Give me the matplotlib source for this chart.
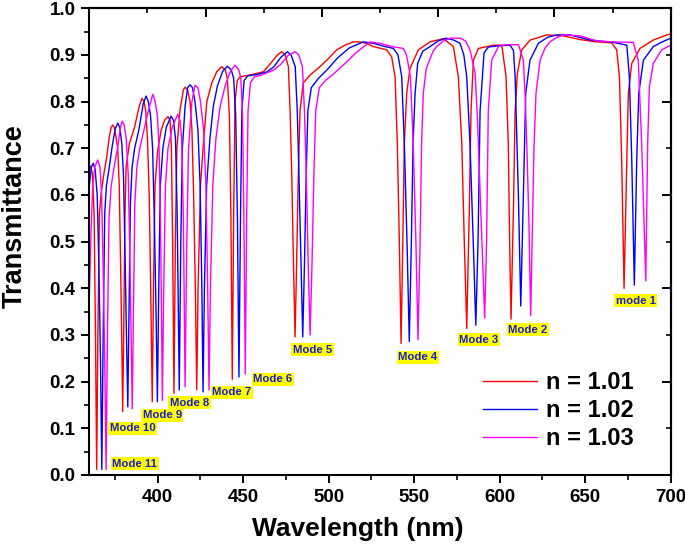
import matplotlib
matplotlib.use("Agg")
import matplotlib.pyplot as plt
from matplotlib.lines import Line2D
from matplotlib.ticker import MultipleLocator, FixedLocator

plt.rcParams['font.family'] = ['Liberation Sans', 'DejaVu Sans']

# ---------------- data ----------------
red_x = [360.0, 360.8, 361.8, 362.8, 363.6, 364.3, 365.0, 365.9, 367.0, 368.5, 370.2, 371.7, 372.8,
         373.7, 374.6, 375.6, 376.6, 377.5, 378.3, 379.0, 379.5, 380.1, 380.8, 381.5, 383.4, 386.3,
         389.2, 390.8, 392.0, 393.0, 394.0, 395.0, 395.8, 396.8, 397.6, 398.4, 400.0, 402.0, 404.0,
         406.0, 407.2, 408.0, 408.7, 409.5, 410.3, 411.2, 413.0, 415.0, 416.0, 417.5, 418.9, 420.0,
         421.0, 422.0, 422.8, 423.6, 425.0, 426.7, 428.7, 431.6, 434.5, 437.4, 439.5, 440.7, 441.9,
         442.8, 443.6, 444.4, 445.2, 446.5, 448.1, 455.0, 461.8, 466.0, 470.0, 472.5, 474.5, 476.4,
         477.4, 478.4, 479.4, 480.3, 481.2, 482.2, 483.2, 485.1, 489.1, 494.9, 500.0, 504.7, 510.0,
         514.4, 518.3, 522.0, 526.1, 533.9, 536.8, 538.8, 540.1, 541.3, 542.3, 543.3, 544.2, 545.6,
         547.5, 552.4, 559.2, 567.0, 572.9, 575.8, 577.8, 579.3, 580.7, 582.2, 583.2, 584.6, 587.5,
         596.3, 601.2, 603.7, 605.0, 605.8, 606.6, 608.0, 609.0, 610.3, 612.9, 617.8, 627.5, 637.2,
         647.0, 656.7, 665.5, 668.4, 670.0, 671.3, 672.7, 674.3, 675.2, 677.2, 682.0, 689.8, 697.7,
         700.0]
red_y = [0.655, 0.662, 0.645, 0.56, 0.30, 0.012, 0.30, 0.56, 0.605, 0.645, 0.682, 0.725, 0.745,
         0.750, 0.745, 0.725, 0.70, 0.62, 0.45, 0.28, 0.136, 0.30, 0.55, 0.66, 0.71, 0.743,
         0.79, 0.807, 0.80, 0.78, 0.72, 0.60, 0.42, 0.157, 0.42, 0.62, 0.696, 0.739, 0.760,
         0.768, 0.76, 0.70, 0.50, 0.175, 0.50, 0.70, 0.782, 0.825, 0.831, 0.825, 0.80, 0.74,
         0.60, 0.40, 0.183, 0.40, 0.62, 0.71, 0.80, 0.84, 0.864, 0.875, 0.868, 0.85, 0.77,
         0.55, 0.205, 0.55, 0.80, 0.845, 0.853, 0.858, 0.864, 0.882, 0.900, 0.907, 0.900, 0.875,
         0.78, 0.64, 0.45, 0.296, 0.45, 0.64, 0.78, 0.84, 0.857, 0.875, 0.893, 0.911, 0.922,
         0.928, 0.928, 0.925, 0.918, 0.911, 0.896, 0.853, 0.71, 0.496, 0.282, 0.496, 0.71, 0.818,
         0.871, 0.911, 0.928, 0.935, 0.918, 0.853, 0.71, 0.496, 0.314, 0.568, 0.78, 0.889, 0.914,
         0.921, 0.921, 0.853, 0.71, 0.496, 0.334, 0.568, 0.78, 0.861, 0.911, 0.932, 0.943, 0.941,
         0.933, 0.928, 0.926, 0.911, 0.853, 0.675, 0.40, 0.675, 0.818, 0.882, 0.914, 0.932, 0.943,
         0.945]

blue_x = [360.0, 361.2, 362.3, 363.4, 364.6, 365.6, 366.5, 367.3, 368.1, 369.0, 370.0, 371.5, 373.2,
          375.0, 376.6, 377.8, 379.0, 380.0, 381.0, 381.8, 382.5, 383.2, 384.0, 385.0, 386.5, 389.0,
          391.5, 393.2, 394.5, 395.8, 397.0, 398.0, 399.0, 399.8, 400.6, 401.5, 403.0, 405.0, 407.8,
          409.2, 410.4, 411.4, 412.6, 413.5, 414.4, 416.0, 417.5, 418.9, 420.3, 421.8, 423.5, 424.8,
          425.8, 426.5, 427.3, 428.6, 430.5, 432.5, 435.0, 438.0, 440.7, 443.0, 444.4, 445.6, 446.6,
          447.5, 448.4, 449.2, 450.5, 452.5, 458.0, 464.0, 468.0, 472.0, 475.8, 478.0, 480.4, 481.6,
          482.6, 483.8, 484.8, 485.8, 486.8, 487.8, 489.8, 494.0, 499.0, 505.0, 512.0, 520.2, 526.0,
          533.0, 537.8, 540.5, 542.7, 544.2, 545.8, 547.1, 548.3, 549.3, 550.5, 552.0, 555.0, 559.2,
          564.0, 568.6, 573.0, 576.8, 579.0, 580.7, 582.6, 584.5, 586.0, 587.3, 588.5, 590.8, 593.3,
          600.0, 606.0, 608.0, 609.0, 610.9, 612.3, 613.8, 615.2, 617.7, 622.6, 628.0, 633.3, 641.1,
          652.8, 666.4, 674.3, 675.8, 677.2, 678.7, 680.1, 681.3, 684.0, 689.8, 695.0, 700.0]
blue_y = [0.62, 0.66, 0.668, 0.655, 0.60, 0.45, 0.25, 0.012, 0.30, 0.56, 0.62, 0.655, 0.70,
          0.74, 0.754, 0.745, 0.71, 0.64, 0.45, 0.28, 0.146, 0.35, 0.58, 0.66, 0.70, 0.74,
          0.795, 0.812, 0.80, 0.77, 0.70, 0.55, 0.35, 0.157, 0.40, 0.62, 0.70, 0.745, 0.769,
          0.76, 0.72, 0.55, 0.182, 0.50, 0.70, 0.79, 0.83, 0.836, 0.83, 0.80, 0.74, 0.62,
          0.40, 0.178, 0.40, 0.62, 0.72, 0.79, 0.835, 0.865, 0.876, 0.868, 0.85, 0.77, 0.55,
          0.21, 0.55, 0.78, 0.845, 0.855, 0.858, 0.864, 0.875, 0.895, 0.907, 0.900, 0.875, 0.78,
          0.64, 0.45, 0.296, 0.45, 0.64, 0.78, 0.83, 0.85, 0.868, 0.893, 0.915, 0.928, 0.925,
          0.918, 0.914, 0.90, 0.853, 0.71, 0.496, 0.286, 0.496, 0.71, 0.818, 0.882, 0.908, 0.918,
          0.930, 0.936, 0.932, 0.925, 0.90, 0.853, 0.71, 0.50, 0.321, 0.50, 0.78, 0.904, 0.917,
          0.920, 0.921, 0.91, 0.853, 0.60, 0.362, 0.60, 0.818, 0.889, 0.925, 0.938, 0.943, 0.943,
          0.932, 0.927, 0.921, 0.853, 0.675, 0.407, 0.675, 0.818, 0.889, 0.918, 0.928, 0.936]

magenta_x = [360.0, 361.0, 362.0, 363.2, 364.9, 366.2, 367.2, 368.2, 369.0, 369.8, 370.6, 371.5, 372.8,
             374.5, 376.5, 378.2, 379.2, 380.4, 381.6, 382.8, 383.8, 384.5, 385.1, 385.8, 386.6, 387.8,
             389.5, 392.0, 394.5, 397.1, 398.5, 399.8, 400.8, 401.6, 402.2, 402.7, 403.5, 404.5, 406.0,
             408.5, 411.7, 413.0, 414.0, 415.0, 416.0, 417.0, 418.0, 420.0, 421.8, 423.5, 425.0, 426.8,
             428.2, 429.2, 430.0, 430.8, 432.2, 434.0, 436.5, 439.5, 442.5, 445.2, 447.4, 448.6, 449.6,
             450.4, 451.2, 452.0, 452.8, 454.2, 456.5, 460.0, 464.0, 468.0, 472.0, 476.0, 480.3, 482.5,
             484.6, 485.8, 486.9, 488.0, 489.1, 490.2, 491.3, 492.4, 494.5, 498.0, 503.0, 509.0, 516.0,
             524.1, 530.0, 537.0, 543.6, 545.5, 547.8, 549.4, 551.0, 552.2, 553.4, 554.3, 555.3, 557.0,
             558.2, 561.0, 563.1, 567.0, 570.9, 576.8, 580.0, 582.6, 585.6, 587.0, 588.5, 589.8, 591.2,
             592.3, 593.3, 595.3, 599.2, 603.0, 611.0, 612.8, 613.8, 615.0, 615.8, 617.0, 618.1, 619.2,
             620.0, 621.2, 623.6, 626.5, 629.4, 633.0, 637.2, 647.0, 656.7, 667.0, 678.1, 681.0, 683.0,
             685.4, 686.5, 687.5, 689.8, 694.7, 700.0]
magenta_y = [0.38, 0.52, 0.62, 0.66, 0.675, 0.66, 0.60, 0.42, 0.25, 0.012, 0.30, 0.55, 0.62,
             0.66, 0.70, 0.745, 0.758, 0.75, 0.72, 0.64, 0.45, 0.28, 0.142, 0.35, 0.58, 0.66,
             0.70, 0.74, 0.78, 0.816, 0.80, 0.77, 0.70, 0.55, 0.35, 0.16, 0.40, 0.62, 0.70,
             0.745, 0.773, 0.76, 0.72, 0.55, 0.189, 0.50, 0.70, 0.80, 0.835, 0.83, 0.80, 0.74,
             0.62, 0.40, 0.182, 0.40, 0.62, 0.72, 0.79, 0.835, 0.865, 0.878, 0.868, 0.85, 0.77,
             0.55, 0.216, 0.55, 0.78, 0.84, 0.853, 0.856, 0.862, 0.868, 0.880, 0.898, 0.907, 0.900,
             0.875, 0.78, 0.64, 0.45, 0.300, 0.45, 0.64, 0.78, 0.83, 0.845, 0.860, 0.880, 0.905,
             0.928, 0.925, 0.918, 0.914, 0.90, 0.853, 0.71, 0.496, 0.290, 0.496, 0.71, 0.818, 0.87,
             0.882, 0.908, 0.918, 0.930, 0.936, 0.936, 0.93, 0.911, 0.861, 0.76, 0.61, 0.48, 0.336,
             0.50, 0.78, 0.889, 0.918, 0.922, 0.922, 0.90, 0.889, 0.80, 0.71, 0.55, 0.341, 0.55,
             0.70, 0.818, 0.889, 0.915, 0.928, 0.937, 0.943, 0.941, 0.930, 0.928, 0.927, 0.889, 0.71,
             0.416, 0.71, 0.832, 0.882, 0.911, 0.921]

series_labels = ["n = 1.01", "n = 1.02", "n = 1.03"]

mode_labels = ["mode 1", "Mode 2", "Mode 3", "Mode 4", "Mode 5", "Mode 6",
               "Mode 7", "Mode 8", "Mode 9", "Mode 10", "Mode 11"]
mode_label_x = [679.6, 616.5, 587.7, 552.2, 490.5, 467.4, 443.5, 418.6, 402.7, 385.4, 386.5]
mode_label_y = [0.373, 0.311, 0.290, 0.252, 0.268, 0.205, 0.177, 0.155, 0.1275, 0.100, 0.024]

x_ticks = [400, 450, 500, 550, 600, 650, 700]
y_ticks = [0.0, 0.1, 0.2, 0.3, 0.4, 0.5, 0.6, 0.7, 0.8, 0.9, 1.0]

# ---------------- figure ----------------
fig = plt.figure(figsize=(6.85, 5.5), dpi=100)
ax = fig.add_axes([0.1304, 0.1364, 0.8488, 0.8485])

colors = ["#ff0000", "#0000ff", "#ff00ff"]
for xs, ys, c, lab in zip([red_x, blue_x, magenta_x], [red_y, blue_y, magenta_y], colors, series_labels):
    ax.plot(xs, ys, color=c, lw=1.0, label=lab, solid_joinstyle='round')

ax.set_xlim(360, 700)
ax.set_ylim(0, 1.0)

ax.set_xticks(x_ticks)
ax.xaxis.set_minor_locator(MultipleLocator(25))
ax.set_yticks(y_ticks)
ax.set_yticklabels([f"{v:.1f}" for v in y_ticks])
ax.yaxis.set_minor_locator(MultipleLocator(0.05))

for sp in ax.spines.values():
    sp.set_linewidth(1.5)

ax.tick_params(which='major', direction='out', length=6, width=1.4,
               labelsize=13.5, pad=4)
ax.tick_params(which='minor', direction='out', length=3.5, width=1.2)
for lab in ax.get_xticklabels() + ax.get_yticklabels():
    lab.set_fontweight('bold')

# top / right inward ticks (Origin style)
top = ax.secondary_xaxis('top')
top.xaxis.set_major_locator(FixedLocator([360 + 68 * k for k in range(1, 5)]))
top.xaxis.set_minor_locator(FixedLocator([360 + 34 + 68 * k for k in range(0, 5)]))
top.tick_params(which='major', direction='in', length=6.5, width=1.4, labeltop=False)
top.tick_params(which='minor', direction='in', length=3.5, width=1.2)
top.spines['top'].set_linewidth(1.5)

right = ax.secondary_yaxis('right')
right.yaxis.set_major_locator(FixedLocator([0.2, 0.4, 0.6, 0.8]))
right.yaxis.set_minor_locator(FixedLocator([0.1, 0.3, 0.5, 0.7, 0.9]))
right.tick_params(which='major', direction='in', length=6.5, width=1.4, labelright=False)
right.tick_params(which='minor', direction='in', length=3.5, width=1.2)
right.spines['right'].set_linewidth(1.5)

ax.set_xlabel("Wavelength (nm)", fontsize=19, fontweight='bold')
ax.set_ylabel("Transmittance", fontsize=19.5, fontweight='bold')
ax.xaxis.set_label_coords(0.462, -0.09)
ax.yaxis.set_label_coords(-0.106, 0.555)

for t, x, y in zip(mode_labels, mode_label_x, mode_label_y):
    ax.text(x, y, t, ha='center', va='center', fontsize=8.2, fontweight='bold',
            color='#1c1cd0',
            bbox=dict(facecolor='#ffff00', edgecolor='none', pad=1.1))

handles = [Line2D([], [], color=c, lw=1.0) for c in colors]
leg = ax.legend(handles, series_labels, loc='center left', bbox_to_anchor=(0.677, 0.138),
                frameon=False, borderpad=0, borderaxespad=0, handlelength=2.3,
                handletextpad=0.35, labelspacing=0.2,
                prop={'size': 17, 'weight': 'bold'})

fig.savefig("out.png", dpi=100)
